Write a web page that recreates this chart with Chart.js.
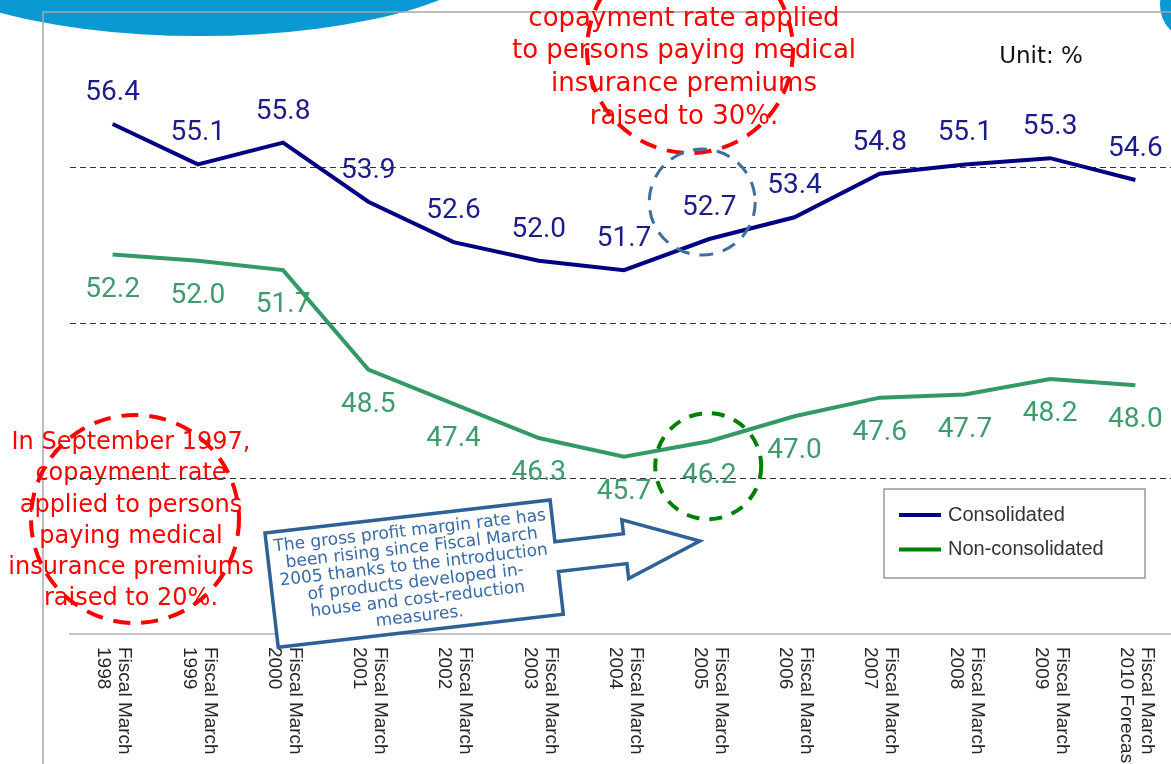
<!DOCTYPE html>
<html>
<head>
<meta charset="utf-8">
<script src="https://cdn.jsdelivr.net/npm/chart.js@4.4.1/dist/chart.umd.min.js"></script>
<style>
  html, body { margin: 0; padding: 0; background: #fff; overflow: hidden; }
  #wrap { position: relative; width: 1190px; height: 764px; }
</style>
</head>
<body>
<div id="wrap"><canvas id="marginChart" width="1190" height="764"></canvas></div>
<script>
// gross profit margin, %
const fiscalYears = ["1998", "1999", "2000", "2001", "2002", "2003", "2004",
  "2005", "2006", "2007", "2008", "2009", "2010 Forecast"];
const periodLabels = fiscalYears.map((y) => ["Fiscal March", y]);
const consolidated = [56.4, 55.1, 55.8, 53.9, 52.6, 52.0, 51.7, 52.7, 53.4, 54.8, 55.1, 55.3, 54.6];
const nonConsolidated = [52.2, 52.0, 51.7, 48.5, 47.4, 46.3, 45.7, 46.2, 47.0, 47.6, 47.7, 48.2, 48.0];
const seriesNames = ["Consolidated", "Non-consolidated"];
const lineColors = ["#000080", "#339966"];
const valueColors = ["#1c1c8a", "#3d9b6c"];
const legendColors = ["#000080", "#008000"];
const gridValues = [45, 50, 55];

const note1997 = ["In September 1997,", "copayment rate", "applied to persons",
  "paying medical", "insurance premiums", "raised to 20%."];
const note2003 = ["In April 2003,", "copayment rate applied", "to persons paying medical",
  "insurance premiums", "raised to 30%."];
const arrowNote = ["The gross profit margin rate has", "been rising since Fiscal March",
  "2005 thanks to the introduction", "of products developed in-",
  "house and cost-reduction", "measures."];

function dashedCircle(ctx, x, y, r, color, width, dash) {
  ctx.save();
  ctx.beginPath();
  ctx.arc(x, y, r, 0, Math.PI * 2);
  ctx.strokeStyle = color;
  ctx.lineWidth = width;
  ctx.setLineDash(dash);
  ctx.stroke();
  ctx.restore();
}

function textBlock(ctx, lines, x, y, step) {
  lines.forEach((line, i) => ctx.fillText(line, x, y + i * step));
}

// page backdrop, frame and red notes (grid lines go over them)
const backdrop = {
  id: "backdrop",
  beforeDraw(chart) {
    const ctx = chart.ctx;
    ctx.save();
    ctx.fillStyle = "#fff";
    ctx.fillRect(0, 0, chart.width, chart.height);

    ctx.fillStyle = "#0b99d3";
    ctx.beginPath();
    ctx.ellipse(200, -60, 307, 96, 0, 0, Math.PI * 2);
    ctx.fill();
    ctx.beginPath();
    ctx.arc(1195, 5, 35, 0, Math.PI * 2);
    ctx.fill();

    ctx.strokeStyle = "#a6a6a6";
    ctx.lineWidth = 1.5;
    ctx.beginPath();
    ctx.moveTo(43, 764);
    ctx.lineTo(43, 12);
    ctx.lineTo(1190, 12);
    ctx.stroke();

    ctx.fillStyle = "#ff0000";
    ctx.textAlign = "center";
    ctx.textBaseline = "middle";
    ctx.font = "26px 'DejaVu Sans'";
    textBlock(ctx, note2003, 684, -14, 32.8);
    ctx.font = "24px 'DejaVu Sans'";
    textBlock(ctx, note1997, 131, 443, 31.2);

    ctx.fillStyle = "#111";
    ctx.font = "23px 'DejaVu Sans'";
    ctx.fillText("Unit: %", 1041, 57);
    ctx.restore();
  }
};

// value labels sit under the lines
const valueLabels = {
  id: "valueLabels",
  beforeDatasetsDraw(chart) {
    const ctx = chart.ctx;
    const offsets = [-31, 35];
    ctx.save();
    ctx.font = "28px Roboto";
    ctx.textAlign = "center";
    ctx.textBaseline = "middle";
    chart.data.datasets.forEach((ds, d) => {
      const meta = chart.getDatasetMeta(d);
      ctx.fillStyle = valueColors[d];
      meta.data.forEach((pt, i) => {
        ctx.fillText(ds.data[i].toFixed(1), pt.x, pt.y + offsets[d]);
      });
    });
    ctx.restore();
  }
};

const overlays = {
  id: "overlays",
  afterDatasetsDraw(chart) {
    const ctx = chart.ctx;
    const xs = chart.scales.x;
    const ys = chart.scales.y;

    // vertical category labels, reading downward
    ctx.save();
    ctx.fillStyle = "#262626";
    ctx.font = "19px 'Liberation Sans'";
    ctx.textAlign = "left";
    ctx.textBaseline = "middle";
    periodLabels.forEach((lines, i) => {
      const x = xs.getPixelForValue(i);
      ctx.save();
      ctx.translate(x, 647);
      ctx.rotate(Math.PI / 2);
      ctx.fillText(lines[0], 0, -12);
      ctx.fillText(lines[1], 0, 9);
      ctx.restore();
    });
    ctx.restore();

    // rings around the notes and the 2005 points
    dashedCircle(ctx, 690, 50, 103, "#ff0000", 4, [17, 11]);
    dashedCircle(ctx, 135, 519, 104, "#ff0000", 4, [17, 11]);
    const px = xs.getPixelForValue(7);
    dashedCircle(ctx, px - 7, ys.getPixelForValue(consolidated[7]) - 37, 53, "#3d6f9e", 3, [14, 10]);
    dashedCircle(ctx, px - 1, ys.getPixelForValue(nonConsolidated[7]) + 25, 53, "#008000", 4, [13, 10]);

    // arrow callout
    ctx.save();
    ctx.translate(265, 533);
    ctx.rotate(-6.6 * Math.PI / 180);
    ctx.beginPath();
    ctx.moveTo(0, 0);
    ctx.lineTo(287, 0);
    ctx.lineTo(287, 42);
    ctx.lineTo(356, 42);
    ctx.lineTo(356, 28);
    ctx.lineTo(431, 58);
    ctx.lineTo(356, 87);
    ctx.lineTo(356, 72);
    ctx.lineTo(287, 72);
    ctx.lineTo(287, 115);
    ctx.lineTo(0, 115);
    ctx.closePath();
    ctx.fillStyle = "#fff";
    ctx.fill();
    ctx.strokeStyle = "#2e6195";
    ctx.lineWidth = 3.5;
    ctx.lineJoin = "miter";
    ctx.stroke();
    ctx.fillStyle = "#3a6ba5";
    ctx.font = "17px 'DejaVu Sans'";
    ctx.textAlign = "center";
    ctx.textBaseline = "middle";
    textBlock(ctx, arrowNote, 144, 15, 17.2);
    ctx.restore();

    // legend box
    ctx.save();
    ctx.fillStyle = "#fff";
    ctx.fillRect(884, 489, 261, 89);
    ctx.strokeStyle = "#9a9a9a";
    ctx.lineWidth = 1.5;
    ctx.strokeRect(884, 489, 261, 89);
    ctx.font = "20px 'Liberation Sans'";
    ctx.textAlign = "left";
    ctx.textBaseline = "middle";
    seriesNames.forEach((name, i) => {
      const y = 515 + i * 34.5;
      ctx.strokeStyle = legendColors[i];
      ctx.lineWidth = 4;
      ctx.beginPath();
      ctx.moveTo(899, y);
      ctx.lineTo(941, y);
      ctx.stroke();
      ctx.fillStyle = "#333";
      ctx.fillText(name, 948, y);
    });
    ctx.restore();
  }
};

const ctx = document.getElementById("marginChart").getContext("2d");
new Chart(ctx, {
  type: "line",
  data: {
    labels: periodLabels,
    datasets: [
      {
        label: seriesNames[0],
        data: consolidated,
        borderColor: lineColors[0],
        borderWidth: 4,
        pointRadius: 0,
        tension: 0,
      },
      {
        label: seriesNames[1],
        data: nonConsolidated,
        borderColor: lineColors[1],
        borderWidth: 4,
        pointRadius: 0,
        tension: 0,
      },
    ],
  },
  options: {
    responsive: false,
    animation: false,
    layout: { padding: { left: 70, right: 12, top: 12, bottom: 122 } },
    plugins: { legend: { display: false }, tooltip: { enabled: false } },
    scales: {
      x: {
        offset: true,
        grid: { display: false },
        ticks: { display: false },
        border: { color: "#c4c4c4", width: 2 },
      },
      y: {
        min: 40,
        max: 60,
        ticks: { display: false, stepSize: 5 },
        grid: {
          drawTicks: false,
          lineWidth: 1,
          color: (c) => (gridValues.includes(c.tick.value) ? "#333" : "rgba(0,0,0,0)"),
        },
        border: { display: false, dash: [6, 4] },
      },
    },
  },
  plugins: [backdrop, valueLabels, overlays],
});
</script>
</body>
</html>
